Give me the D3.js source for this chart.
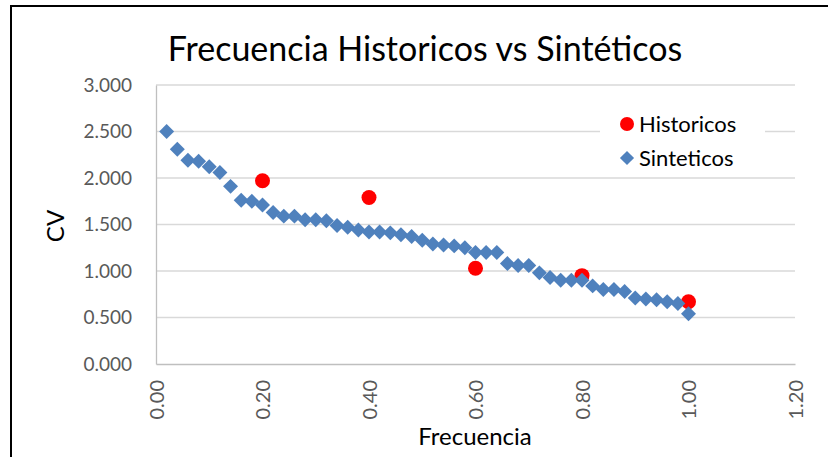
<!DOCTYPE html>
<html>
<head>
<meta charset="utf-8">
<script src="https://cdn.jsdelivr.net/npm/d3@7"></script>
<style>
  body { margin: 0; background: #fff; }
  text { font-family: Lato, "Open Sans", sans-serif; }
</style>
</head>
<body>
<script>
// datos
var frecHistoricos = [0.2, 0.4, 0.6, 0.8, 1.0];
var cvHistoricos = [1.97, 1.79, 1.03, 0.95, 0.67];

var frecSinteticos = [
  0.02, 0.04, 0.06, 0.08, 0.10, 0.12, 0.14, 0.16, 0.18, 0.20,
  0.22, 0.24, 0.26, 0.28, 0.30, 0.32, 0.34, 0.36, 0.38, 0.40,
  0.42, 0.44, 0.46, 0.48, 0.50, 0.52, 0.54, 0.56, 0.58, 0.60,
  0.62, 0.64, 0.66, 0.68, 0.70, 0.72, 0.74, 0.76, 0.78, 0.80,
  0.82, 0.84, 0.86, 0.88, 0.90, 0.92, 0.94, 0.96, 0.98, 1.00
];
var cvSinteticos = [
  2.50, 2.31, 2.19, 2.18, 2.12, 2.06, 1.91, 1.76, 1.75, 1.71,
  1.63, 1.59, 1.59, 1.55, 1.55, 1.54, 1.49, 1.47, 1.44, 1.42,
  1.42, 1.41, 1.39, 1.37, 1.33, 1.29, 1.28, 1.27, 1.25, 1.20,
  1.20, 1.20, 1.08, 1.06, 1.06, 0.98, 0.93, 0.90, 0.90, 0.90,
  0.84, 0.80, 0.80, 0.78, 0.71, 0.70, 0.69, 0.67, 0.65, 0.54
];

var xTicks = [0, 0.2, 0.4, 0.6, 0.8, 1.0, 1.2];
var yTicks = [0, 0.5, 1.0, 1.5, 2.0, 2.5, 3.0];

var w = 828, h = 457;
var plotLeft = 156, plotRight = 795, plotTop = 85, plotBottom = 364;

var svg = d3.select("body").append("svg")
  .attr("width", w)
  .attr("height", h);

svg.append("rect").attr("width", w).attr("height", h).attr("fill", "#fff");

// marco del grafico
svg.append("rect")
  .attr("x", 11).attr("y", 6)
  .attr("width", 900).attr("height", 600)
  .attr("fill", "none")
  .attr("stroke", "#000")
  .attr("stroke-width", 2);

var x = d3.scaleLinear().domain([0, 1.2]).range([plotLeft, plotRight]);
var y = d3.scaleLinear().domain([0, 3]).range([plotBottom, plotTop]);

// lineas de cuadricula
svg.append("g")
  .selectAll("line")
  .data(yTicks.slice(1))
  .enter().append("line")
  .attr("x1", plotLeft).attr("x2", plotRight)
  .attr("y1", function (d) { return y(d); })
  .attr("y2", function (d) { return y(d); })
  .attr("stroke", "#D9D9D9")
  .attr("stroke-width", 1.3);

// eje Y
var yAxis = svg.append("g")
  .attr("transform", "translate(" + plotLeft + ",0)")
  .call(d3.axisLeft(y).tickValues(yTicks).tickFormat(d3.format(".3f")).tickSize(0).tickPadding(24));
yAxis.select(".domain").attr("stroke", "#BFBFBF").attr("stroke-width", 1.3);
yAxis.selectAll("text")
  .attr("fill", "#595959")
  .style("font-size", "19px");

// eje X
var xAxis = svg.append("g")
  .attr("transform", "translate(0," + plotBottom + ")")
  .call(d3.axisBottom(x).tickValues(xTicks).tickFormat(d3.format(".2f")).tickSize(0));
xAxis.select(".domain").attr("stroke", "#BFBFBF").attr("stroke-width", 1.3);
xAxis.selectAll("text")
  .attr("fill", "#595959")
  .style("font-size", "20px")
  .attr("text-anchor", "end")
  .attr("transform", "rotate(-90)")
  .attr("x", -16)
  .attr("y", 0)
  .attr("dy", "0.35em");

// serie historicos (debajo)
svg.append("g")
  .selectAll("circle")
  .data(frecHistoricos)
  .enter().append("circle")
  .attr("cx", function (d) { return x(d); })
  .attr("cy", function (d, i) { return y(cvHistoricos[i]); })
  .attr("r", 7.5)
  .attr("fill", "#FF0000");

// serie sinteticos
var diamond = d3.symbol().type(d3.symbolSquare).size(112);
svg.append("g")
  .selectAll("path")
  .data(frecSinteticos)
  .enter().append("path")
  .attr("d", diamond)
  .attr("transform", function (d, i) {
    return "translate(" + x(d) + "," + y(cvSinteticos[i]) + ") rotate(45)";
  })
  .attr("fill", "#4F81BD");

// leyenda
var legend = svg.append("g");
legend.append("rect")
  .attr("x", 600).attr("y", 108)
  .attr("width", 165).attr("height", 66)
  .attr("fill", "#fff");
legend.append("circle")
  .attr("cx", 627).attr("cy", 124).attr("r", 7)
  .attr("fill", "#FF0000");
legend.append("path")
  .attr("d", d3.symbol().type(d3.symbolSquare).size(100))
  .attr("transform", "translate(627,158) rotate(45)")
  .attr("fill", "#4F81BD");
legend.append("text")
  .attr("x", 639).attr("y", 124).attr("dy", "0.35em")
  .style("font-size", "22px")
  .text("Historicos");
legend.append("text")
  .attr("x", 639).attr("y", 158).attr("dy", "0.35em")
  .style("font-size", "22px")
  .text("Sinteticos");

// titulos
svg.append("text")
  .attr("x", 425).attr("y", 61)
  .attr("text-anchor", "middle")
  .style("font-size", "34px")
  .text("Frecuencia Historicos vs Sintéticos");

svg.append("text")
  .attr("transform", "translate(64,226) rotate(-90)")
  .attr("text-anchor", "middle")
  .style("font-size", "24px")
  .text("CV");

svg.append("text")
  .attr("x", 475).attr("y", 445)
  .attr("text-anchor", "middle")
  .style("font-size", "24px")
  .text("Frecuencia");
</script>
</body>
</html>
